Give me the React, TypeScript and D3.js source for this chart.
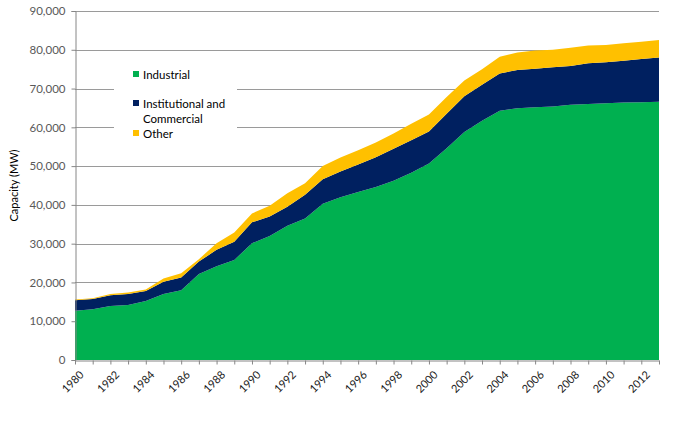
import React, { useRef, useEffect } from 'react';
import * as d3 from 'd3';

const years = d3.range(1980, 2014);

// MW
const industrial = [
  12700, 13100, 13900, 14200, 15200, 17000, 18000, 22200, 24200, 25800,
  30100, 32000, 34600, 36500, 40300, 42000, 43300, 44600, 46200, 48300,
  50700, 54600, 58800, 61700, 64300, 64900, 65200, 65400, 65800, 66000,
  66200, 66400, 66500, 66600,
];
const institutional = [
  2700, 2600, 2800, 2800, 2600, 3200, 3300, 3200, 4200, 4700,
  5400, 5000, 4900, 6100, 6300, 6600, 7100, 7700, 8300, 8400,
  8200, 8900, 9200, 9300, 9600, 9900, 9900, 10100, 10000, 10500,
  10600, 10800, 11100, 11400,
];
const other = [
  200, 200, 300, 400, 400, 800, 1100, 600, 1700, 2400,
  2300, 2800, 3500, 3000, 3400, 3600, 3700, 3800, 3900, 4200,
  4400, 4300, 4100, 4000, 4300, 4500, 4700, 4500, 4700, 4600,
  4400, 4500, 4500, 4500,
];

const seriesKeys = ['industrial', 'institutional', 'other'];
const seriesColors = ['#00B050', '#002060', '#FFC000'];
const legendLabels = [['Industrial'], ['Institutional and', 'Commercial'], ['Other']];
const yTicks = d3.range(0, 90001, 10000);

const W = 680;
const H = 422;
const FONT = 'Lato, "Open Sans", sans-serif';

export default function App() {
  const svgRef = useRef<SVGSVGElement>(null);

  useEffect(() => {
    document.body.style.margin = '0';
    const svg = d3.select(svgRef.current);
    svg.selectAll('*').remove();

    const x = d3.scaleLinear().domain([1980, 2013]).range([75, 659]);
    const y = d3.scaleLinear().domain([0, 90000]).range([360, 11]);

    const rows = years.map((yr, i) => ({
      year: yr,
      industrial: industrial[i],
      institutional: institutional[i],
      other: other[i],
    }));
    const stacked = d3.stack<any>().keys(seriesKeys)(rows);

    // gridlines
    svg.append('g')
      .selectAll('line')
      .data(yTicks.slice(1))
      .join('line')
      .attr('x1', x(1980)).attr('x2', x(2013))
      .attr('y1', d => Math.round(y(d)) + 0.5).attr('y2', d => Math.round(y(d)) + 0.5)
      .attr('stroke', '#9a9a9a').attr('stroke-width', 1);

    // legend box hides gridlines underneath
    svg.append('rect')
      .attr('x', 114).attr('y', 58).attr('width', 123).attr('height', 84)
      .attr('fill', '#fff');

    const area = d3.area<any>()
      .x(d => x(d.data.year))
      .y0(d => y(d[0]))
      .y1(d => y(d[1]));

    svg.append('g')
      .selectAll('path')
      .data(stacked)
      .join('path')
      .attr('d', d => area(d) || '')
      .attr('fill', (_, i) => seriesColors[i]);

    // y axis
    const yAxis = svg.append('g')
      .attr('transform', 'translate(75.5,0)')
      .call(d3.axisLeft(y).tickValues(yTicks).tickSize(4).tickPadding(6).tickFormat(d3.format(',')));
    yAxis.select('.domain').attr('stroke', '#868686');
    yAxis.selectAll('.tick line').attr('stroke', '#868686');
    yAxis.selectAll('.tick text')
      .attr('fill', '#595959').attr('font-size', 11.5).attr('font-family', FONT);

    // x axis
    const xAxis = svg.append('g')
      .attr('transform', `translate(0,${y(0) + 0.5})`)
      .call(d3.axisBottom(x).tickValues(years).tickSize(4).tickSizeOuter(0).tickFormat(() => ''));
    xAxis.select('.domain').attr('stroke', '#868686');
    xAxis.selectAll('.tick line').attr('stroke', '#868686');

    svg.append('g')
      .selectAll('text')
      .data(years.filter(yr => yr % 2 === 0))
      .join('text')
      .attr('transform', d => `translate(${x(d) + 4},${y(0) + 10}) rotate(-45)`)
      .attr('text-anchor', 'end')
      .attr('dy', '0.71em')
      .attr('font-size', 11)
      .attr('font-family', FONT)
      .attr('fill', '#1a1a1a')
      .text(d => String(d));

    // y axis title
    svg.append('text')
      .attr('transform', `translate(18,${(y(0) + y(90000)) / 2}) rotate(-90)`)
      .attr('text-anchor', 'middle')
      .attr('font-size', 11)
      .attr('font-family', FONT)
      .attr('fill', '#000')
      .text('Capacity (MW)');

    // legend
    const legendY = [71, 100, 130];
    const lg = svg.append('g');
    legendLabels.forEach((lines, i) => {
      lg.append('rect')
        .attr('x', 133).attr('y', legendY[i])
        .attr('width', 6).attr('height', 6)
        .attr('fill', seriesColors[i]);
      lines.forEach((line, j) => {
        lg.append('text')
          .attr('x', 143).attr('y', legendY[i] + 7.5 + j * 15)
          .attr('font-size', 11.5)
          .attr('font-family', FONT)
          .attr('fill', '#000')
          .text(line);
      });
    });
  }, []);

  return <svg ref={svgRef} width={W} height={H} style={{ display: 'block', background: '#fff' }} />;
}
